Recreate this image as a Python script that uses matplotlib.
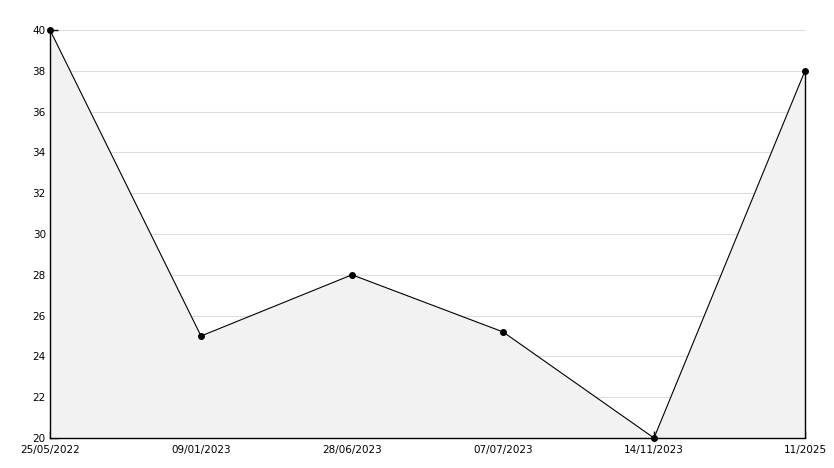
import matplotlib
matplotlib.use('Agg')
import matplotlib.pyplot as plt
import numpy as np
from matplotlib.ticker import MultipleLocator

labels = ['25/05/2022', '09/01/2023', '28/06/2023', '07/07/2023', '14/11/2023', '11/2025']
values = [40, 25, 28, 25.2, 20, 38]

x = np.arange(len(values))

fig = plt.figure(figsize=(8.34, 4.68), dpi=100)
ax = fig.add_axes([50 / 834, 30 / 468, 755 / 834, 408 / 468])

ax.fill_between(x, values, 20, color='#f2f2f2', linewidth=0, zorder=1)
ax.plot(x, values, color='black', linewidth=0.8, marker='o', markersize=4,
        zorder=4, clip_on=False)
ax.vlines(x[-1], 20, values[-1], color='black', linewidth=1, zorder=3, clip_on=False)

ax.set_xlim(x[0], x[-1])
ax.set_ylim(20, 40)
ax.set_xticks(x)
ax.set_xticklabels(labels)
ax.yaxis.set_major_locator(MultipleLocator(2))
ax.yaxis.set_minor_locator(MultipleLocator(1))
ax.grid(axis='y', color='#dddddd', linewidth=0.8, zorder=0)
ax.set_axisbelow(True)

for s in ['top', 'right']:
    ax.spines[s].set_visible(False)
ax.spines['left'].set_linewidth(1)
ax.spines['bottom'].set_linewidth(1)

ax.tick_params(axis='both', direction='in', labelsize=7.5, width=1, pad=3)
ax.tick_params(axis='y', which='major', length=6)
ax.tick_params(axis='y', which='minor', length=4, direction='in')
ax.tick_params(axis='x', length=5, pad=5)

fig.savefig('out.png', dpi=100)
